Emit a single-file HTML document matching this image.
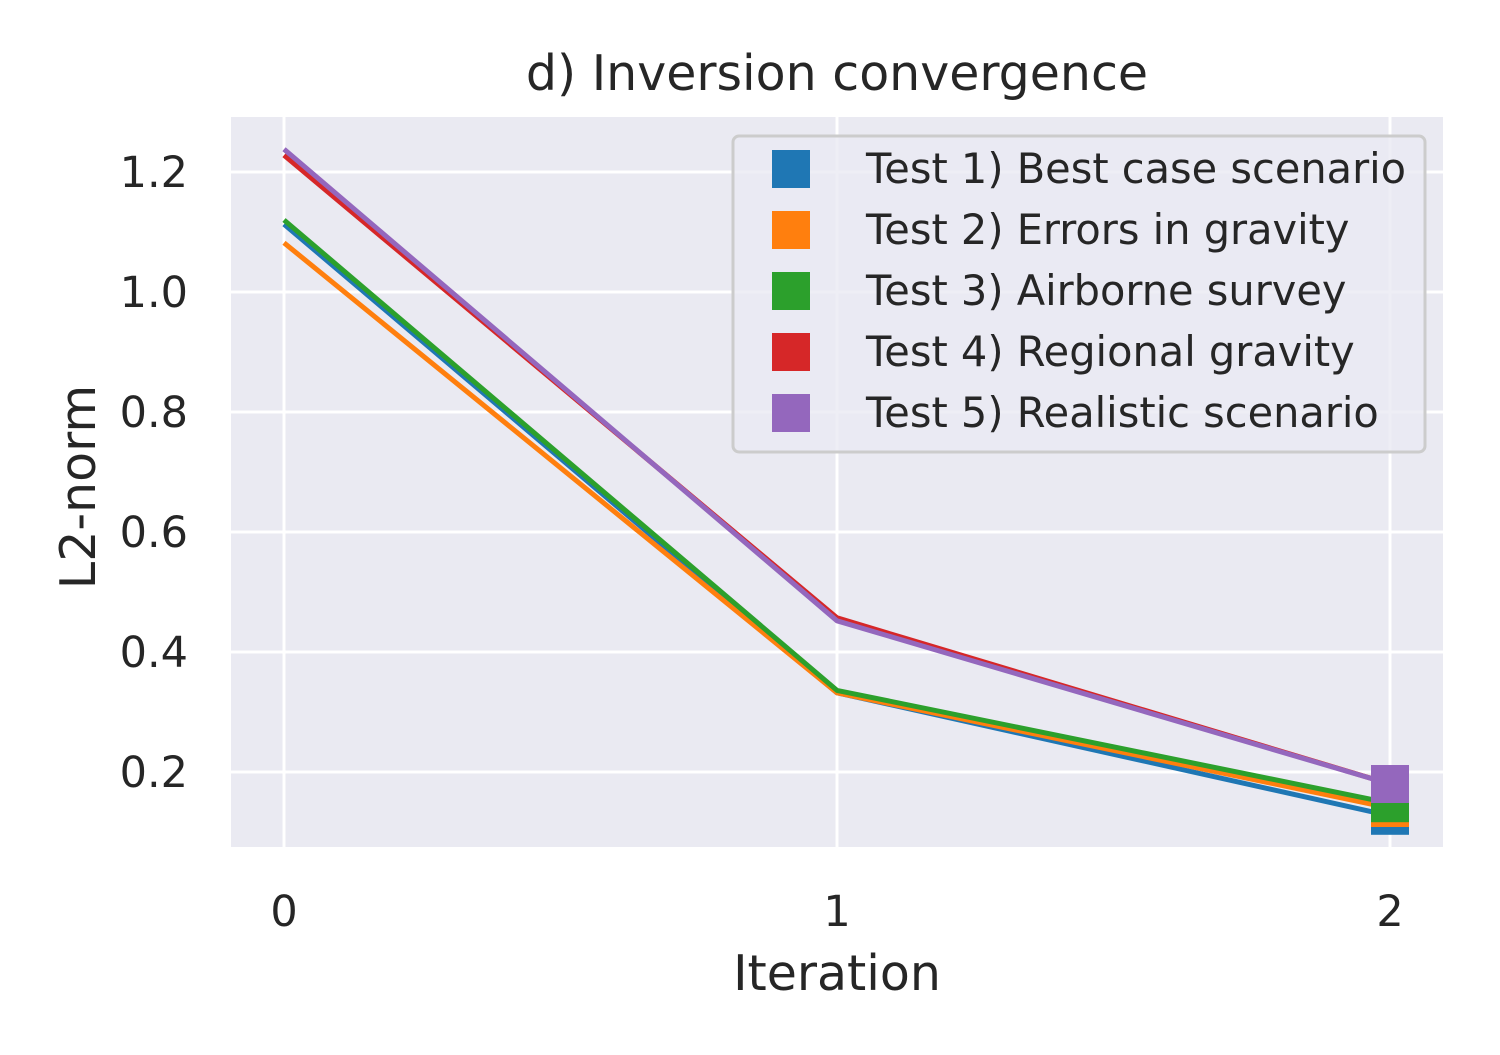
<!DOCTYPE html>
<html><head><meta charset="utf-8"><style>
html,body{margin:0;padding:0;background:#fff}
svg text{font-family:"DejaVu Sans","Liberation Sans",sans-serif;fill:#262626}
</style></head><body>
<svg id="chart" width="1500" height="1050" xmlns="http://www.w3.org/2000/svg">
<rect x="231" y="117" width="1212" height="730" fill="#eaeaf2"/>
<g id="grid"></g>
<g id="series"></g>
<g id="ticks"></g>
<text x="837" y="90" font-size="49" text-anchor="middle">d) Inversion convergence</text>
<text x="837" y="990" font-size="49" text-anchor="middle">Iteration</text>
<text transform="translate(95,487) rotate(-90)" font-size="49" text-anchor="middle">L2-norm</text>
<g id="legend">
<rect x="733" y="136" width="692" height="316" rx="6" fill="#eaeaf2" fill-opacity="0.8" stroke="#cccccc" stroke-width="3"/>
</g>
</svg>
<script>
const iterations=[0,1,2];
const labels=["Test 1) Best case scenario","Test 2) Errors in gravity","Test 3) Airborne survey","Test 4) Regional gravity","Test 5) Realistic scenario"];
const colors=["#1f77b4","#ff7f0e","#2ca02c","#d62728","#9467bd"];
const test1=[1.113,0.332,0.127];
const test2=[1.082,0.332,0.140];
const test3=[1.120,0.336,0.148];
const test4=[1.228,0.457,0.180];
const test5=[1.238,0.452,0.180];
const seriesData=[test1,test2,test3,test4,test5];
const yTicks=[0.2,0.4,0.6,0.8,1.0,1.2];
const yTickLabels=["0.2","0.4","0.6","0.8","1.0","1.2"];
const xTicks=[0,1,2];

const NS="http://www.w3.org/2000/svg";
const xs=v=>284+v*553;
const ys=v=>772-(v-0.2)*600;
function mk(tag,attrs,parent){const e=document.createElementNS(NS,tag);for(const k in attrs)e.setAttribute(k,attrs[k]);parent.appendChild(e);return e;}
const grid=document.getElementById('grid'),ticks=document.getElementById('ticks'),ser=document.getElementById('series'),leg=document.getElementById('legend');
yTicks.forEach((t,i)=>{
  const l=mk('line',{x1:231,x2:1443,y1:ys(t),y2:ys(t),stroke:'#fff','stroke-width':3},grid);
  
  
  const tx=mk('text',{x:188,y:ys(t)+15,'font-size':43,'text-anchor':'end'},ticks);
  tx.textContent=yTickLabels[i];
  
  
});
xTicks.forEach(t=>{
  const l=mk('line',{x1:xs(t),x2:xs(t),y1:117,y2:847,stroke:'#fff','stroke-width':3},grid);
  
  
  const tx=mk('text',{x:xs(t),y:926,'font-size':43,'text-anchor':'middle'},ticks);
  tx.textContent=String(t);
  
  
});
seriesData.forEach((d,i)=>{
  const pts=d.map((v,j)=>xs(iterations[j])+','+ys(v)).join(' ');
  const pl=mk('polyline',{points:pts,fill:'none',stroke:colors[i],'stroke-width':5,'stroke-linejoin':'round'},ser);
  
  
  const last=d.length-1;
  const m=mk('rect',{x:xs(iterations[last])-19,y:ys(d[last])-19,width:38,height:38,fill:colors[i]},ser);
  
  
});
labels.forEach((lb,i)=>{
  const cy=169+i*61;
  const r=mk('rect',{x:772,y:cy-19,width:38,height:38,fill:colors[i]},leg);
  
  
  const t=mk('text',{x:866,y:cy+14,'font-size':41.5},leg);
  t.textContent=lb;
  
  
});
</script>
</body></html>
